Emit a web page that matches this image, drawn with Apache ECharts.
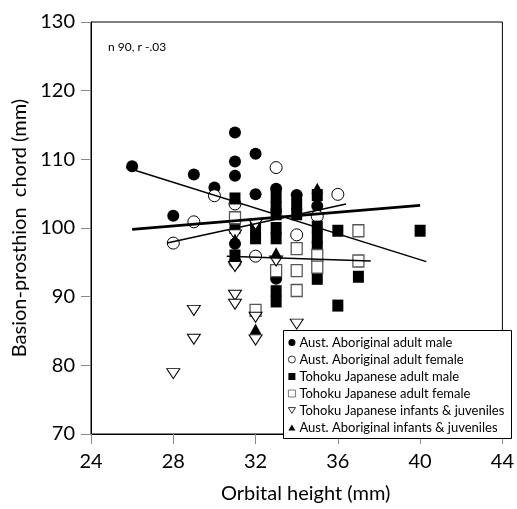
<!DOCTYPE html>
<html><head><meta charset="utf-8">
<script src="https://cdn.jsdelivr.net/npm/echarts@6/dist/echarts.min.js"></script>
<style>html,body{margin:0;padding:0;background:#fff}#c{width:517px;height:509px}</style>
</head><body><div id="c"></div>
<script>
const seriesNames = ['Aust. Aboriginal adult male','Aust. Aboriginal adult female','Tohoku Japanese adult male','Tohoku Japanese adult female','Tohoku Japanese infants & juveniles','Aust. Aboriginal infants & juveniles'];
const xTicks = [24, 44, 4];
const yTicks = [70, 130, 10];
const ausAdultMale = [[26,109],[28,101.8],[29,107.8],[30,105.9],[31,113.9],[31,109.7],[31,107.6],[31,97.7],[32,110.8],[32,104.9],[33,105.7],[33,92.6],[34,104.8],[35,103.2]];
const ausAdultFemale = [[28,97.8],[29,100.9],[30,104.7],[31,103.5],[31,95.0],[32,95.9],[33,108.8],[34,99.0],[35,101.7],[36,104.9]];
const tohokuAdultMale = [[31,104.3],[31,100.0],[31,96.0],[32,100.0],[32,98.5],[33,104.5],[33,103.0],[33,102.0],[33,100.0],[33,98.5],[33,90.8],[33,89.3],[34,103.5],[34,102.0],[35,104.8],[35,100.2],[35,98.6],[35,97.2],[35,92.6],[36,99.6],[36,88.7],[37,92.9],[40,99.6]];
const tohokuAdultFemale = [[31,101.5],[32,88.0],[33,93.8],[34,97.0],[34,93.8],[34,90.9],[35,96.0],[35,94.3],[37,99.6],[37,95.2]];
const tohokuInfants = [[28,78.8],[29,88.0],[29,83.8],[31,99.0],[31,94.4],[31,90.2],[31,88.9],[32,100.5],[32,87.0],[32,83.7],[33,95.2],[34,86.0]];
const ausInfants = [[31,98.4],[32,85.3],[33,96.4],[35,105.8]];
const regLines = [
  [[25.7,108.8],[40.3,95.1]],
  [[26,99.8],[40,103.3]],
  [[27.7,97.8],[36.4,103.5]],
  [[30.6,95.9],[37.6,95.2]]
];
const regWidths = [1.5, 2.6, 1.5, 1.5];
const statText = 'n 90, r -.03';

const FONT = 'Lato';
const triDown = 'path://M0,0 L12,0 L6,10 Z';
const triUp = 'path://M6,0 L12,10 L0,10 Z';

const styles = [
  { symbol: 'circle', size: 12, fill: '#000', border: '#000', bw: 0 },
  { symbol: 'circle', size: 12, fill: '#fff', border: '#000', bw: 1 },
  { symbol: 'rect', size: [11,12], fill: '#000', border: '#000', bw: 0 },
  { symbol: 'rect', size: [11,12], fill: '#fff', border: '#555', bw: 1.3 },
  { symbol: triDown, size: [13,10], fill: '#fff', border: '#000', bw: 1 },
  { symbol: triUp, size: [12,11], fill: '#000', border: '#000', bw: 0 }
];
const datasets = [ausAdultMale, ausAdultFemale, tohokuAdultMale, tohokuAdultFemale, tohokuInfants, ausInfants];

const series = datasets.map((d, i) => ({
  name: seriesNames[i], type: 'scatter', data: d, symbol: styles[i].symbol, symbolSize: styles[i].size, z: 2,
  itemStyle: { color: styles[i].fill, borderColor: styles[i].border, borderWidth: styles[i].bw, opacity: 1 },
  emphasis: { disabled: true }
}));
regLines.forEach((l, i) => series.push({
  type: 'line', data: l, showSymbol: false, symbol: 'none', z: 5,
  lineStyle: { color: '#000', width: regWidths[i] }, emphasis: { disabled: true }, silent: true
}));

const legendData = seriesNames.map((n, i) => ({
  name: n, icon: styles[i].symbol,
  itemStyle: { color: styles[i].fill, borderColor: styles[i].border, borderWidth: styles[i].bw ? 0.8 : 0 }
}));

const chart = echarts.init(document.getElementById('c'), null, { renderer: 'canvas' });
chart.setOption({
  animation: false,
  backgroundColor: '#fff',
  textStyle: { fontFamily: FONT },
  title: { text: statText, left: 103, top: 36, textStyle: { fontSize: 12, fontWeight: 'normal', color: '#000', fontFamily: FONT } },
  grid: { left: 91, right: 6, top: 22, bottom: 71, show: true, borderColor: '#000', borderWidth: 1, containLabel: false },
  xAxis: {
    type: 'value', min: xTicks[0], max: xTicks[1], interval: xTicks[2],
    name: 'Orbital height (mm)', nameLocation: 'middle', nameGap: 50,
    nameTextStyle: { fontSize: 20, color: '#000', fontFamily: FONT, padding: [0,0,0,18] },
    axisLine: { show: true, lineStyle: { color: '#000', width: 1 } },
    axisTick: { show: true, inside: false, length: 10, lineStyle: { color: '#888', width: 1 } },
    axisLabel: { fontSize: 20, color: '#000', margin: 18, fontFamily: FONT },
    splitLine: { show: false }
  },
  yAxis: {
    type: 'value', min: yTicks[0], max: yTicks[1], interval: yTicks[2],
    name: 'Basion-prosthion  chord (mm)', nameLocation: 'middle', nameGap: 54,
    nameTextStyle: { fontSize: 20, color: '#000', fontFamily: FONT },
    axisLine: { show: true, lineStyle: { color: '#000', width: 1 } },
    axisTick: { show: true, inside: false, length: 10, lineStyle: { color: '#888', width: 1 } },
    axisLabel: { fontSize: 20, color: '#000', margin: 16, fontFamily: FONT },
    splitLine: { show: false }
  },
  legend: {
    data: legendData, orient: 'vertical', left: 288, top: 335,
    itemWidth: 7, itemHeight: 7, itemGap: 2, padding: 0,
    textStyle: { fontSize: 13, lineHeight: 15, color: '#000', fontFamily: FONT, padding: [0,0,0,-1] },
    selectedMode: false
  },
  graphic: [{
    type: 'rect', left: 283, top: 330, z: 1,
    shape: { width: 228, height: 108 },
    style: { fill: '#fff', stroke: '#000', lineWidth: 1 }
  }],
  series
});
</script></body></html>
